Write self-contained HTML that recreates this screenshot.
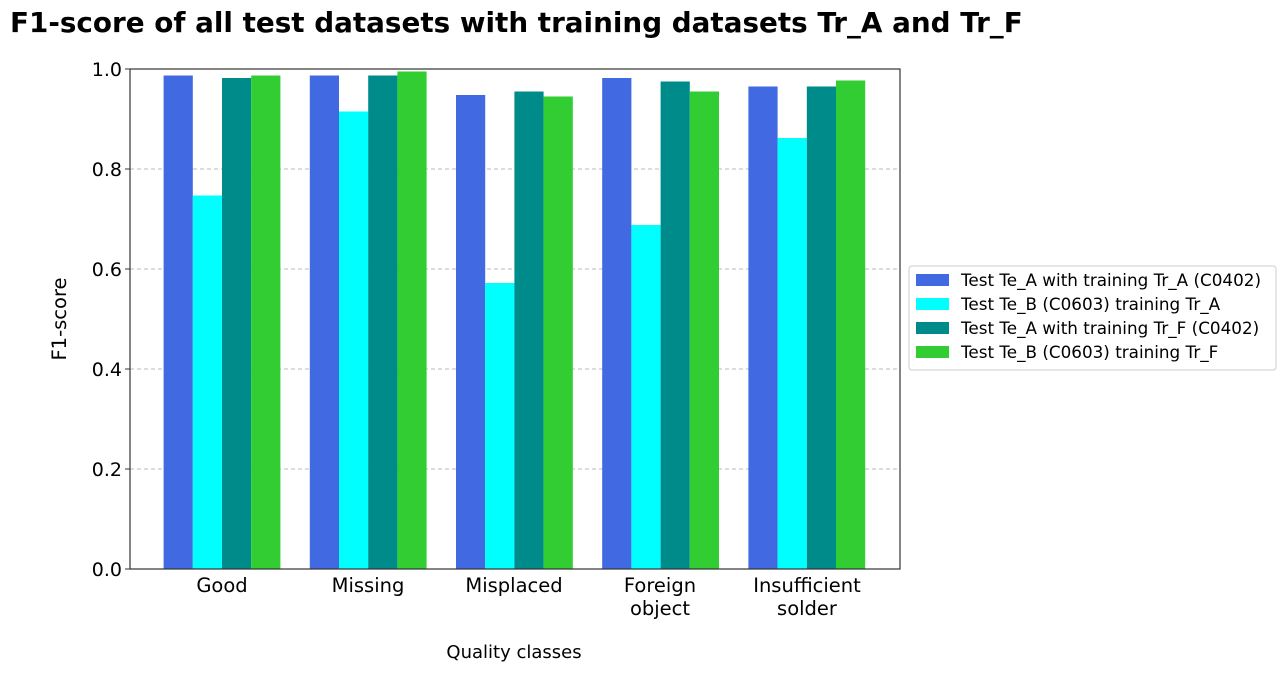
<!DOCTYPE html>
<html><head><meta charset="utf-8"><style>body{margin:0;background:#fff}svg{display:block}text{font-family:"DejaVu Sans","Liberation Sans",sans-serif;fill:#000}</style></head>
<body>
<svg width="1288" height="673" viewBox="0 0 1288 673" xmlns="http://www.w3.org/2000/svg">
<text x="10" y="32" font-size="27.8" font-weight="bold">F1-score of all test datasets with training datasets Tr_A and Tr_F</text>
<g stroke="#bbb" stroke-dasharray="4,3" stroke-width="1">
<line x1="130" x2="900" y1="169" y2="169"/><line x1="130" x2="900" y1="269" y2="269"/><line x1="130" x2="900" y1="369" y2="369"/><line x1="130" x2="900" y1="469" y2="469"/>
</g>
<g>
<rect x="163.6" y="75.5" width="29.2" height="493.5" fill="#4169e1"/>
<rect x="192.8" y="195.5" width="29.2" height="373.5" fill="#00ffff"/>
<rect x="222" y="78" width="29.2" height="491" fill="#008b8b"/>
<rect x="251.2" y="75.5" width="29.2" height="493.5" fill="#32cd32"/>
<rect x="309.8" y="75.5" width="29.2" height="493.5" fill="#4169e1"/>
<rect x="339" y="111.5" width="29.2" height="457.5" fill="#00ffff"/>
<rect x="368.2" y="75.5" width="29.2" height="493.5" fill="#008b8b"/>
<rect x="397.4" y="71.5" width="29.2" height="497.5" fill="#32cd32"/>
<rect x="456" y="95" width="29.2" height="474" fill="#4169e1"/>
<rect x="485.2" y="283" width="29.2" height="286" fill="#00ffff"/>
<rect x="514.4" y="91.5" width="29.2" height="477.5" fill="#008b8b"/>
<rect x="543.6" y="96.5" width="29.2" height="472.5" fill="#32cd32"/>
<rect x="602.2" y="78" width="29.2" height="491" fill="#4169e1"/>
<rect x="631.4" y="225" width="29.2" height="344" fill="#00ffff"/>
<rect x="660.6" y="81.5" width="29.2" height="487.5" fill="#008b8b"/>
<rect x="689.8" y="91.5" width="29.2" height="477.5" fill="#32cd32"/>
<rect x="748.4" y="86.5" width="29.2" height="482.5" fill="#4169e1"/>
<rect x="777.6" y="138" width="29.2" height="431" fill="#00ffff"/>
<rect x="806.8" y="86.5" width="29.2" height="482.5" fill="#008b8b"/>
<rect x="836" y="80.5" width="29.2" height="488.5" fill="#32cd32"/>
</g>
<rect x="130" y="69" width="770" height="500" fill="none" stroke="#333" stroke-width="1.2"/>
<g font-size="19" text-anchor="end">
<text x="122" y="76">1.0</text><text x="122" y="176">0.8</text><text x="122" y="276">0.6</text><text x="122" y="376">0.4</text><text x="122" y="476">0.2</text><text x="122" y="576">0.0</text>
</g>
<g stroke="#333"><line x1="125" x2="130" y1="69" y2="69"/><line x1="125" x2="130" y1="169" y2="169"/><line x1="125" x2="130" y1="269" y2="269"/><line x1="125" x2="130" y1="369" y2="369"/><line x1="125" x2="130" y1="469" y2="469"/><line x1="125" x2="130" y1="569" y2="569"/></g>
<g font-size="19.5" text-anchor="middle">
<text x="222" y="592">Good</text><text x="368" y="592">Missing</text><text x="514" y="592">Misplaced</text>
<text x="660" y="592">Foreign</text><text x="660" y="615">object</text>
<text x="807" y="592">Insufficient</text><text x="807" y="615">solder</text>
</g>
<text x="514" y="658" font-size="18" text-anchor="middle">Quality classes</text>
<text transform="translate(66,319) rotate(-90)" font-size="19.5" text-anchor="middle">F1-score</text>
<rect x="909" y="266" width="367" height="104" rx="3" fill="#fff" stroke="#ccc"/>
<rect x="916" y="274" width="33" height="12" fill="#4169e1"/><rect x="916" y="298" width="33" height="12" fill="#00ffff"/><rect x="916" y="322" width="33" height="12" fill="#008b8b"/><rect x="916" y="346" width="33" height="12" fill="#32cd32"/>
<g font-size="16.8"><text x="961" y="286">Test Te_A with training Tr_A (C0402)</text><text x="961" y="310">Test Te_B (C0603) training Tr_A</text><text x="961" y="334">Test Te_A with training Tr_F (C0402)</text><text x="961" y="358">Test Te_B (C0603) training Tr_F</text></g>
</svg>
</body></html>
